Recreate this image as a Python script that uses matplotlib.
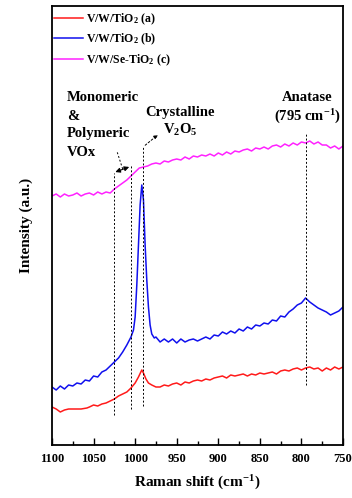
import matplotlib
matplotlib.use("Agg")
import matplotlib.pyplot as plt
import numpy as np
from matplotlib.ticker import MultipleLocator

plt.rcParams['font.family'] = ['Liberation Serif', 'DejaVu Serif']
plt.rcParams['font.weight'] = 'bold'
plt.rcParams['mathtext.fontset'] = 'custom'
plt.rcParams['mathtext.rm'] = 'Liberation Serif:bold'
plt.rcParams['mathtext.it'] = 'Liberation Serif:bold'
plt.rcParams['mathtext.bf'] = 'Liberation Serif:bold'
plt.rcParams['mathtext.default'] = 'rm'

# ---- data ----
wn_c = [1100,1095,1090,1085,1080,1075,1070,1065,1060,1055,1050,1045,1040,1035,1030,1025,1020,1015,1010,1005,
        1000,995,990,985,980,975,970,965,960,955,950,945,940,935,930,925,920,915,910,905,900,895,890,885,880,
        875,870,865,860,855,850,845,840,835,830,825,820,815,810,805,800,795,790,785,780,775,770,765,760,755,750]
int_c = [249,251,248,251,249,250,252,249,251,252,250,253,251,253,252,256,259,262,265,269,
         273,277,278,279,281,282,281,284,283,285,286,285,288,286,289,288,290,289,291,289,292,290,293,291,294,
         293,295,296,294,297,296,298,296,299,300,298,301,299,302,300,303,302,304,301,303,300,300,297,299,296,299]

wn_b = [1100,1095,1090,1085,1080,1075,1070,1065,1060,1055,1050,1045,1040,1035,1030,1025,1020,1015,1010,1005,
        1002,1000,998,996,994,992,990,988,986,984,982,980,977,975,970,965,960,955,950,945,940,935,930,925,920,
        915,910,905,900,895,890,885,880,875,870,865,860,855,850,845,840,835,830,825,820,815,810,805,800,795,
        790,785,780,775,770,765,760,755,750]
int_b = [58,55,59,56,60,59,62,61,65,64,69,68,73,75,79,83,87,93,100,108,
         115,128,160,200,240,260,245,200,165,138,120,111,107,108,103,106,103,106,102,106,103,105,106,104,106,
         108,106,110,109,113,111,114,112,116,114,118,116,120,119,122,121,125,124,129,128,133,136,140,142,147,
         143,140,137,135,133,130,132,134,138]

wn_a = [1100,1095,1090,1085,1080,1075,1065,1058,1055,1050,1045,1040,1035,1030,1025,1020,1015,1010,1005,1000,
        996,992,990,987,984,980,975,970,965,960,955,950,945,940,935,930,925,920,915,910,905,900,895,890,885,
        880,875,870,865,860,855,850,845,840,835,830,825,820,815,810,805,800,795,790,785,780,775,770,765,760,755,750]
int_a = [38,36,33,35,36,36,36,37,38,40,39,41,42,44,46,49,51,53,57,62,
         68,75,72,66,62,60,58,58,60,59,61,62,60,63,62,64,65,64,66,65,67,68,69,67,70,
         69,70,71,69,71,70,72,71,72,73,71,74,75,74,76,77,75,77,78,76,77,74,77,75,78,76,78]

labels = ['V/W/TiO$_2$ (a)', 'V/W/TiO$_2$ (b)', 'V/W/Se-TiO$_2$ (c)']
colors = ['#ff1a1a', '#1010ee', '#ff22ff']

# dashed marker lines: position, bottom, top
vl_pos = [1025, 1005, 991, 795]
vl_lo = [30, 36, 39, 60]
vl_hi = [272, 280, 298, 312]

xticks = [1100, 1050, 1000, 950, 900, 850, 800, 750]

fig = plt.figure(figsize=(3.52, 4.98), dpi=100)
ax = fig.add_axes([52/352, 1-445/498, 291/352, 439/498])

ax.plot(wn_a, int_a, color=colors[0], lw=1.1, label=labels[0])
ax.plot(wn_b, int_b, color=colors[1], lw=1.1, label=labels[1])
ax.plot(wn_c, int_c, color=colors[2], lw=1.1, label=labels[2])

for p, lo, hi in zip(vl_pos, vl_lo, vl_hi):
    ax.plot([p, p], [lo, hi], color='k', lw=0.7, ls=(0, (2, 2)))

ax.set_xlim(1100, 750)
ax.set_ylim(0, 439)
ax.set_yticks([])
ax.set_xticks(xticks)
ax.xaxis.set_minor_locator(MultipleLocator(25))
ax.tick_params(axis='x', which='major', direction='in', length=5, width=1.0, labelsize=9, pad=6)
ax.tick_params(axis='x', which='minor', direction='in', length=3, width=1.0)
for lab in ax.get_xticklabels():
    lab.set_fontweight('bold')
for s in ax.spines.values():
    s.set_linewidth(1.3)

ax.set_xlabel('Raman shift (cm$^{-1}$)', fontsize=11, fontweight='bold', labelpad=6)
ax.set_ylabel('Intensity (a.u.)', fontsize=11, fontweight='bold', labelpad=14)

# annotations
tk = dict(fontsize=10.5, fontweight='bold')
ax.text(1082, 348, 'Monomeric', ha='left', va='center', **tk)
ax.text(1082, 329, '&', ha='left', va='center', **tk)
ax.text(1082, 312, 'Polymeric', ha='left', va='center', **tk)
ax.text(1082, 293, 'VOx', ha='left', va='center', **tk)
ax.text(946, 333, 'Crystalline', ha='center', va='center', **tk)
ax.text(946, 315, 'V$_2$O$_5$', ha='center', va='center', **tk)
ax.text(793, 348, 'Anatase', ha='center', va='center', **tk)
ax.text(793, 328, '(795 cm$^{-1}$)', ha='center', va='center', **tk)

ax.annotate('', xy=(1027, 272), xytext=(1004, 279),
            arrowprops=dict(arrowstyle='<|-|>', color='k', lw=0.8, mutation_scale=7))
ax.plot([1015, 1022], [276, 294], color='k', lw=0.7, ls=(0, (2, 2)))
ax.annotate('', xy=(970, 312), xytext=(990.5, 298),
            arrowprops=dict(arrowstyle='-|>', color='k', lw=0.7, ls=(0, (2, 2)), mutation_scale=6))

leg = ax.legend(loc='upper left', bbox_to_anchor=(0.0, 0.993), frameon=False,
                fontsize=8.5, handlelength=2.4, handletextpad=0.3, labelspacing=0.42,
                borderpad=0.2, borderaxespad=0)
for t in leg.get_texts():
    t.set_fontweight('bold')

fig.savefig('out.png', dpi=100)
